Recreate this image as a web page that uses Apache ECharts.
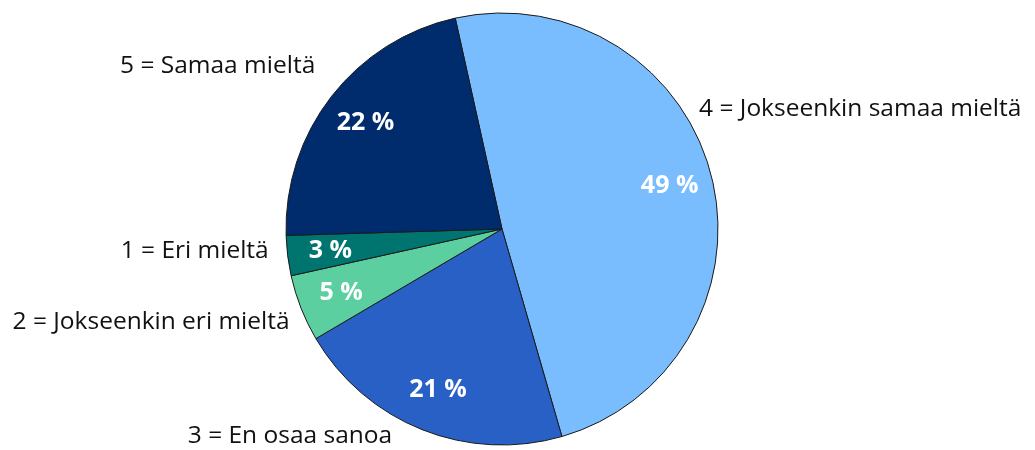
<!DOCTYPE html>
<html lang="fi">
<head>
<meta charset="UTF-8">
<title>Pie</title>
<script src="https://cdn.jsdelivr.net/npm/echarts@6/dist/echarts.min.js"></script>
<style>
  html, body { margin: 0; padding: 0; background: #fff; }
  #chart { width: 1035px; height: 450px; }
</style>
</head>
<body>
<div id="chart"></div>
<script>
// Data (clockwise from the top)
const categories = ['4 = Jokseenkin samaa mieltä', '3 = En osaa sanoa', '2 = Jokseenkin eri mieltä', '1 = Eri mieltä', '5 = Samaa mieltä'];
const values = [49, 21, 5, 3, 22];
const colors = ['#79bdff', '#2860c5', '#5bcf9f', '#00746f', '#002b6c'];

// label nudges (dx, dy) for the outer labels
const labelNudge = [[-25, -65], [-22, -1], [1, 11], [-6, -6], [-5, -25]];

const chart = echarts.init(document.getElementById('chart'));
const font = '"Open Sans", "Noto Sans", sans-serif';

const pieData = categories.map((c, i) => ({ name: c, value: values[i], itemStyle: { color: colors[i] } }));

chart.setOption({
  animation: false,
  series: [
    {
      type: 'pie',
      center: [502, 229],
      radius: [0, 216],
      startAngle: 102.5,
      clockwise: true,
      avoidLabelOverlap: false,
      silent: true,
      itemStyle: { borderColor: '#1a1a1a', borderWidth: 1 },
      label: {
        show: true,
        position: 'outside',
        color: '#111',
        fontFamily: font,
        fontSize: 24.5,
        formatter: '{b}'
      },
      labelLine: { show: false, length: 8, length2: 0 },
      labelLayout: function (p) {
        const n = labelNudge[p.dataIndex];
        return { dx: n[0], dy: n[1] };
      },
      data: pieData
    },
    {
      type: 'pie',
      center: [502, 229],
      radius: [124, 216],
      startAngle: 102.5,
      clockwise: true,
      silent: true,
      itemStyle: { color: 'transparent', borderWidth: 0 },
      label: {
        show: true,
        position: 'inside',
        color: '#fff',
        fontFamily: font,
        fontWeight: 'bold',
        fontSize: 25,
        formatter: '{c} %'
      },
      labelLine: { show: false },
      data: categories.map((c, i) => ({ name: c, value: values[i] }))
    }
  ]
});
</script>
</body>
</html>
